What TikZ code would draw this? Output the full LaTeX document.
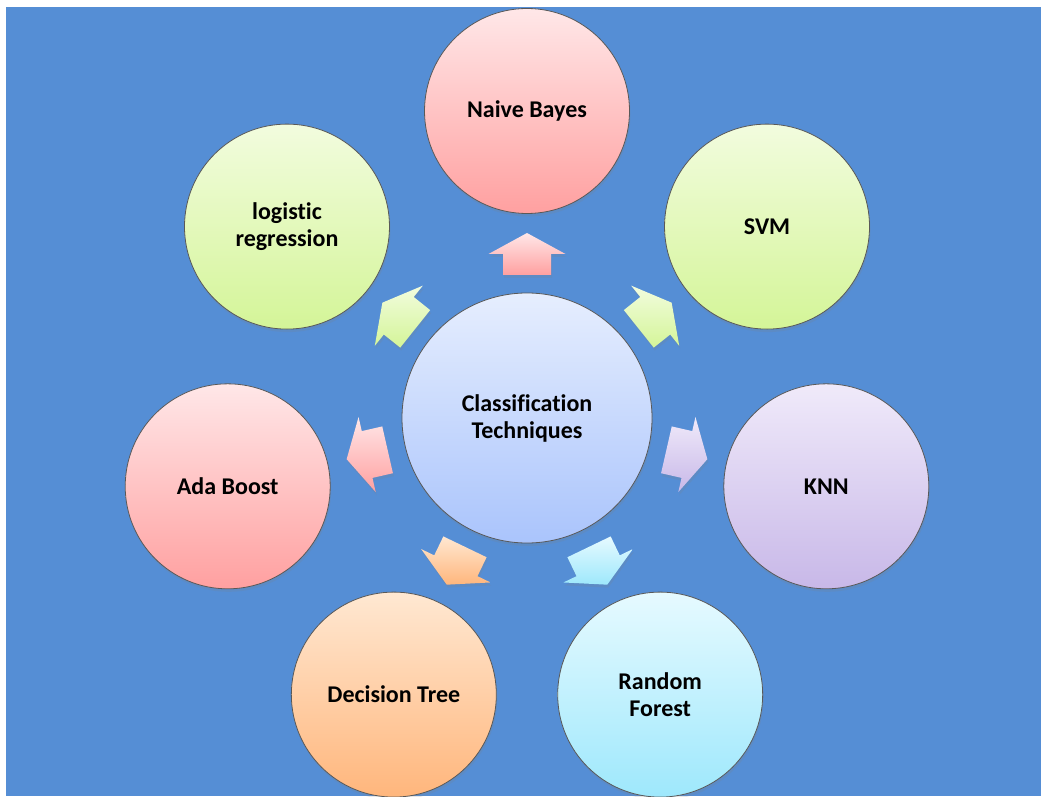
\documentclass[tikz,border=0pt]{standalone}
\usepackage{fontspec}
\setmainfont[Ligatures=NoCommon]{Carlito}
\usetikzlibrary{calc,shadows}

\definecolor{bg}{RGB}{85,142,213}
\definecolor{pinkT}{RGB}{255,231,232}
\definecolor{pinkB}{RGB}{255,160,160}
\definecolor{greenT}{RGB}{242,252,222}
\definecolor{greenB}{RGB}{212,245,152}
\definecolor{lilacT}{RGB}{240,234,250}
\definecolor{lilacB}{RGB}{200,184,232}
\definecolor{cyanT}{RGB}{230,250,255}
\definecolor{cyanB}{RGB}{158,232,252}
\definecolor{peachT}{RGB}{255,232,210}
\definecolor{peachB}{RGB}{255,182,124}
\definecolor{blueT}{RGB}{230,238,254}
\definecolor{blueB}{RGB}{170,196,252}

\tikzset{
  x=1pt, y=1pt,
  softshadow/.style={drop shadow={shadow xshift=1pt, shadow yshift=-3pt, opacity=0.18}},
  bubble/.style={circle, draw=black!65, line width=0.8pt, minimum size=205pt,
    inner sep=0pt, align=center, softshadow,
    font=\fontsize{24}{27}\selectfont\bfseries},
  hub/.style={bubble, minimum size=250pt},
  spoke/.style={draw=none, softshadow},
  pink/.style={top color=pinkT, bottom color=pinkB},
  green/.style={top color=greenT, bottom color=greenB},
  lilac/.style={top color=lilacT, bottom color=lilacB},
  cyan/.style={top color=cyanT, bottom color=cyanB},
  peach/.style={top color=peachT, bottom color=peachB},
  bluish/.style={top color=blueT, bottom color=blueB},
}

% block arrow pointing from the hub towards a satellite
% #1 direction angle, #2 satellite node, #3 shading style
\newcommand\radialarrow[3]{%
  \coordinate (s#2) at ($(ct)!164pt!(#2)$);
  \path[spoke, #3]
    ($(s#2)+({#1}:21)$)
    -- ($(s#2)+({#1+90}:38.5)$)
    -- ($(s#2)+({#1+90}:24)$)
    -- ($(s#2)+({#1+90}:24)+({#1+180}:21)$)
    -- ($(s#2)+({#1-90}:24)+({#1+180}:21)$)
    -- ($(s#2)+({#1-90}:24)$)
    -- ($(s#2)+({#1-90}:38.5)$)
    -- cycle;
}

\begin{document}
\begin{tikzpicture}
\useasboundingbox (0,0) rectangle (1041,796);
\fill[bg] (6,0) rectangle (1041,789);

\node[hub, bluish] (ct) at (527,378) {Classification\\Techniques};

\node[bubble, pink]  (nb) at ($(ct)+(90:307)$)      {Naive Bayes};
\node[bubble, green] (sv) at ($(ct)+(38.57:307)$)   {SVM};
\node[bubble, lilac] (kn) at ($(ct)+(-12.86:307)$)  {KNN};
\node[bubble, cyan]  (rf) at ($(ct)+(-64.29:307)$)  {Random\\Forest};
\node[bubble, peach] (dt) at ($(ct)+(-115.71:307)$) {Decision Tree};
\node[bubble, pink]  (ab) at ($(ct)+(-167.14:307)$) {Ada Boost};
\node[bubble, green] (lr) at ($(ct)+(141.43:307)$)  {logistic\\regression};

\radialarrow{90}{nb}{pink}
\radialarrow{38.57}{sv}{green}
\radialarrow{-12.86}{kn}{lilac}
\radialarrow{-64.29}{rf}{cyan}
\radialarrow{-115.71}{dt}{peach}
\radialarrow{-167.14}{ab}{pink}
\radialarrow{141.43}{lr}{green}
\end{tikzpicture}
\end{document}
